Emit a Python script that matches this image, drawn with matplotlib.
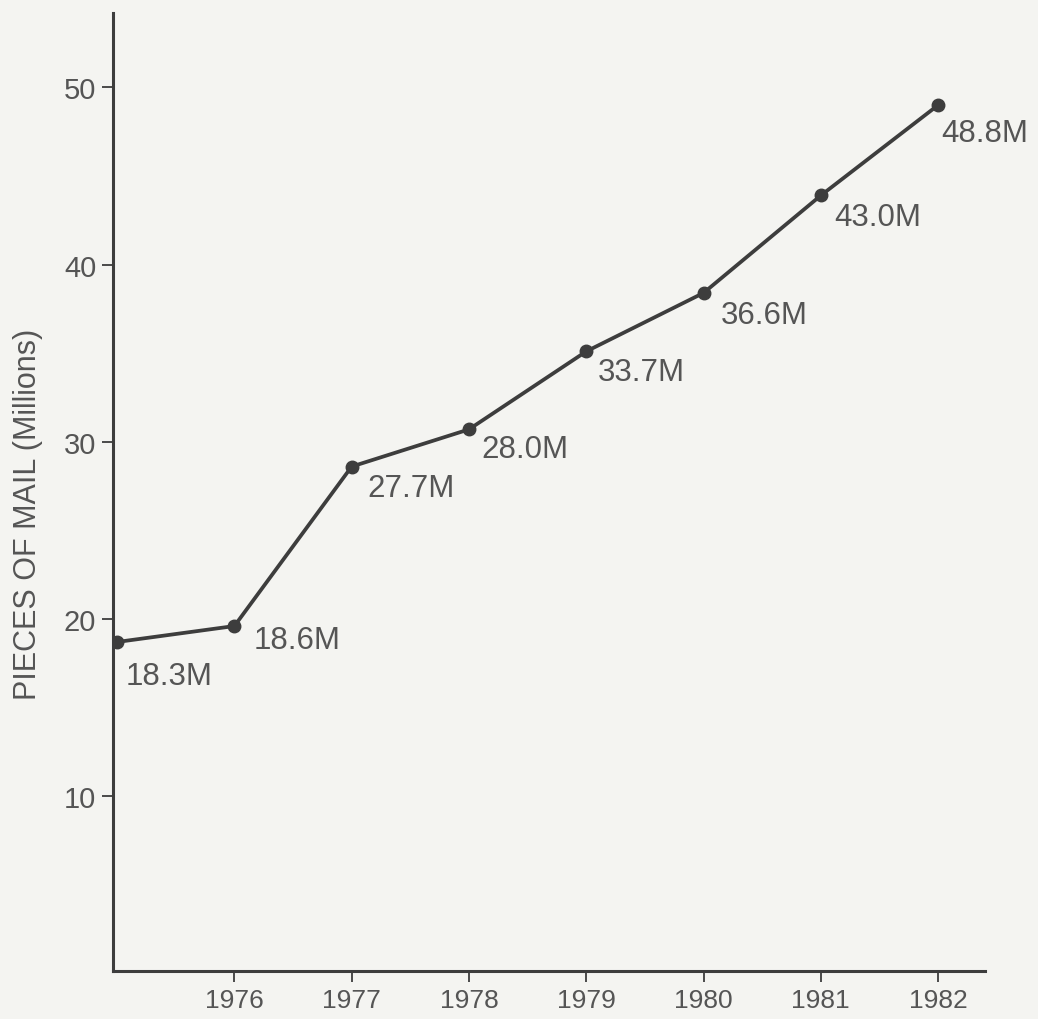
import matplotlib
matplotlib.use("Agg")
import matplotlib.pyplot as plt

years = [1975, 1976, 1977, 1978, 1979, 1980, 1981, 1982]
plotted_values = [18.7, 19.6, 28.6, 30.7, 35.1, 38.4, 43.9, 49.0]
value_labels = ["18.3M", "18.6M", "27.7M", "28.0M", "33.7M", "36.6M", "43.0M", "48.8M"]
x_ticks = [1976, 1977, 1978, 1979, 1980, 1981, 1982]
y_ticks = [10, 20, 30, 40, 50]
y_label = "PIECES OF MAIL (Millions)"

# label offsets in pixels (dx, dy) from each point
label_offsets = [(9, -34), (19, -14), (16, -21), (12, -20), (12, -21), (17, -22), (13, -22), (3, -28)]

plt.rcParams['font.family'] = ['Liberation Sans', 'DejaVu Sans']
bg = '#f4f4f1'
ink = '#3d3d3d'
txt = '#555555'

fig = plt.figure(figsize=(10.38, 10.20), dpi=100, facecolor=bg)
ax = fig.add_axes([113/1038, 48/1020, (985-113)/1038, (1006-48)/1020])
ax.set_facecolor(bg)

ax.plot(years, plotted_values, color=ink, lw=2.7, marker='o', markersize=9,
        markerfacecolor=ink, markeredgecolor=ink, zorder=3)

for x, y, lab, (dx, dy) in zip(years, plotted_values, value_labels, label_offsets):
    ax.annotate(lab, (x, y), xytext=(dx, dy), textcoords='offset pixels',
                ha='left', va='center', fontsize=22.5, color=txt)

ax.set_xlim(1974.965, 1982.4)
ax.set_ylim(0.13, 54.2)
ax.set_xticks(x_ticks)
ax.set_xticklabels([str(t) for t in x_ticks])
ax.set_yticks(y_ticks)
ax.set_yticklabels([str(t) for t in y_ticks])

for s in ['top', 'right']:
    ax.spines[s].set_visible(False)
for s in ['left', 'bottom']:
    ax.spines[s].set_color(ink)
    ax.spines[s].set_linewidth(2.2)

ax.tick_params(axis='both', direction='out', length=8, width=1.3, color=ink,
               labelcolor=txt, pad=4)
ax.tick_params(axis='x', labelsize=19)
ax.tick_params(axis='y', labelsize=21)

fig.text(28/1038, 1 - 514/1020, y_label, rotation=90, ha='center', va='center',
         fontsize=22, color=txt)

fig.savefig('out.png', dpi=100, facecolor=bg)
